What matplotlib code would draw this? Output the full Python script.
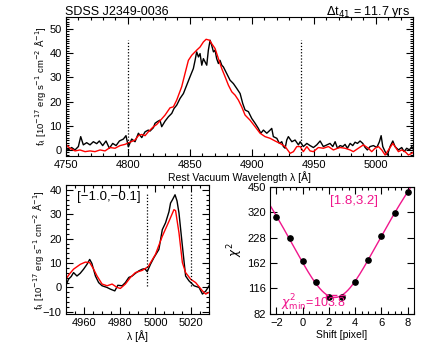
import numpy as np
import matplotlib
matplotlib.use('Agg')
import matplotlib.pyplot as plt
from matplotlib.ticker import MultipleLocator, FixedLocator, NullLocator

plt.rcParams['font.family'] = ['Liberation Sans', 'DejaVu Sans']
plt.rcParams['mathtext.fontset'] = 'dejavusans'

# top panel: H-beta, observed (black) and shifted model (red)
wave_blk = [4750.0, 4752.1, 4754.8, 4757.5, 4760.2, 4762.1, 4764.2, 4766.9, 4769.6, 4772.3,
            4775.0, 4777.1, 4779.8, 4782.5, 4785.2, 4787.9, 4790.6, 4793.3, 4796.5, 4798.6,
            4800.5, 4803.2, 4805.9, 4808.6, 4811.3, 4814.0, 4816.6, 4818.0, 4820.7, 4822.0,
            4823.9, 4826.0, 4827.4, 4830.1, 4832.8, 4835.5, 4837.3, 4839.5, 4842.2, 4844.9,
            4847.5, 4850.2, 4852.9, 4854.3, 4855.6, 4857.0, 4858.3, 4859.7, 4861.0, 4862.3,
            4863.7, 4865.0, 4866.4, 4867.7, 4869.1, 4870.4, 4871.7, 4873.1, 4874.4, 4875.8,
            4877.1, 4879.8, 4882.5, 4885.2, 4887.9, 4890.6, 4892.7, 4894.6, 4897.3, 4900.0,
            4902.7, 4905.3, 4907.3, 4909.4, 4912.1, 4914.8, 4916.1, 4917.4, 4920.2, 4922.3,
            4924.2, 4925.5, 4926.9, 4928.2, 4929.5, 4932.3, 4934.9, 4937.6, 4939.0, 4941.6,
            4944.4, 4947.0, 4949.7, 4952.4, 4955.1, 4957.7, 4960.5, 4963.1, 4965.3, 4967.2,
            4969.1, 4971.2, 4973.4, 4975.2, 4977.1, 4979.3, 4981.4, 4983.3, 4985.2, 4987.3,
            4989.5, 4991.4, 4993.2, 4995.4, 4998.1, 5000.8, 5002.9, 5004.3, 5005.6, 5007.5,
            5009.4, 5011.5, 5013.7, 5015.5, 5018.2, 5020.9, 5022.8, 5024.9, 5027.1, 5029.0,
            5030.0]
flux_blk = [1.4, 0.0, 1.0, 0.0, 1.4, 5.5, 2.1, 3.0, 2.1, 3.4,
            2.6, 3.7, 1.8, 3.7, 0.7, 2.7, 1.8, 3.7, 4.5, 5.9,
            1.3, 4.5, 3.4, 6.9, 5.1, 7.5, 8.2, 7.8, 9.2, 11.0,
            11.7, 12.3, 9.6, 11.9, 13.7, 15.1, 17.1, 18.5, 21.3, 23.3,
            26.7, 30.2, 33.6, 37.0, 40.5, 38.4, 39.8, 35.0, 37.7, 36.4,
            35.0, 41.2, 45.3, 43.2, 40.5, 41.2, 37.7, 35.7, 37.0, 35.0,
            34.3, 31.6, 28.8, 27.4, 25.4, 23.3, 19.2, 16.5, 15.8, 13.0,
            11.0, 8.9, 6.9, 8.2, 6.9, 8.2, 8.9, 5.5, 4.8, 2.7,
            3.4, 1.4, 0.7, 4.1, 5.5, 3.4, 4.1, 2.1, 3.4, 1.4,
            2.7, 1.8, 1.0, 2.1, 3.7, 1.4, 2.1, 2.7, 1.4, 3.4,
            0.7, 1.8, 1.4, 2.3, 0.7, 2.7, 1.8, 3.2, 2.7, 3.7,
            2.7, 1.0, 0.0, 1.4, 1.8, 1.0, 3.4, 5.9, 1.4, -0.7,
            -2.1, 1.4, 3.7, 1.4, 0.0, 1.0, -0.7, 0.7, 0.0, 1.4,
            0.5]

wave_red = [4750.0, 4753.5, 4757.5, 4761.5, 4765.6, 4769.6, 4773.6, 4777.7, 4781.7, 4785.7,
            4789.8, 4793.8, 4797.8, 4801.9, 4805.9, 4808.6, 4811.3, 4814.0, 4816.6, 4818.0,
            4820.7, 4823.3, 4826.0, 4830.1, 4834.1, 4836.8, 4839.5, 4843.5, 4846.2, 4848.9,
            4851.6, 4855.6, 4858.3, 4861.0, 4863.2, 4866.0, 4867.7, 4870.4, 4873.1, 4875.8,
            4878.5, 4881.2, 4883.9, 4886.6, 4889.2, 4891.9, 4894.6, 4898.6, 4902.7, 4906.7,
            4910.7, 4914.8, 4918.8, 4922.8, 4926.9, 4930.9, 4933.6, 4936.3, 4939.0, 4941.6,
            4944.4, 4947.0, 4949.7, 4953.7, 4957.7, 4961.8, 4965.8, 4969.2, 4971.2, 4975.2,
            4979.3, 4981.9, 4985.9, 4990.0, 4994.0, 4996.7, 4999.4, 5002.1, 5004.8, 5007.5,
            5010.2, 5013.7, 5015.5, 5018.2, 5020.9, 5023.6, 5026.3, 5029.0, 5030.0]
flux_red = [2.3, 0.7, -0.4, 0.0, -0.7, -0.4, -0.7, 0.0, -0.4, 1.0,
            0.7, 1.8, 2.3, 3.2, 4.1, 5.9, 6.4, 5.9, 7.5, 8.2,
            9.6, 10.5, 12.0, 14.4, 17.4, 17.8, 20.6, 26.1, 31.6, 37.0,
            39.1, 41.2, 42.5, 44.6, 45.7, 45.3, 43.9, 41.9, 37.7, 33.6,
            30.2, 26.7, 24.0, 22.6, 20.6, 17.8, 14.4, 12.3, 9.6, 6.9,
            5.5, 4.8, 3.7, 2.7, 1.4, -1.4, -0.7, 1.4, 1.4, -0.7,
            1.4, -0.4, -0.7, 1.0, 0.7, 1.4, 0.0, 0.7, 1.0, 0.7,
            0.0, -0.7, 0.7, 2.1, 0.7, -0.7, 0.7, 1.4, 0.0, -2.1,
            0.0, 2.7, 1.4, -0.7, 0.0, -0.7, -2.1, -1.4, -1.0]

# bottom left: [OIII] region
wave2_blk = [4950.0, 4951.5, 4953.0, 4954.3, 4956.2, 4958.0, 4959.9, 4961.8, 4963.3, 4964.5,
             4966.5, 4968.3, 4970.2, 4973.0, 4974.9, 4977.3, 4979.0, 4981.4, 4983.2, 4985.1,
             4987.0, 4988.8, 4990.7, 4992.6, 4994.0, 4995.4, 4997.2, 4999.1, 5001.9, 5003.8,
             5005.6, 5007.5, 5008.4, 5009.5, 5010.9, 5012.0, 5013.1, 5015.0, 5016.8, 5018.7,
             5021.5, 5024.3, 5026.2, 5028.1, 5029.9]
flux2_blk = [0.7, 3.4, 4.5, 6.1, 4.7, 5.8, 7.5, 9.5, 11.5, 9.9,
             4.7, 2.0, 0.7, 0.0, -0.7, -1.4, 0.9, 0.7, 2.0, 4.1,
             4.7, 5.8, 6.8, 7.5, 7.7, 6.5, 9.5, 12.2, 15.6, 23.7,
             26.5, 31.0, 34.6, 36.0, 38.0, 35.5, 30.5, 17.0, 4.7, 2.7,
             0.7, 0.0, -2.7, -1.4, 0.7]
wave2_red = [4950.0, 4952.0, 4954.3, 4958.1, 4960.9, 4963.3, 4965.5, 4967.4, 4970.2, 4973.0,
             4975.8, 4978.6, 4980.4, 4983.2, 4986.0, 4988.8, 4992.6, 4995.9, 5000.0, 5003.8,
             5007.5, 5010.3, 5011.2, 5013.1, 5015.0, 5016.8, 5019.6, 5022.4, 5026.2, 5028.0,
             5029.9]
flux2_red = [3.4, 5.5, 7.5, 9.5, 10.4, 10.2, 7.5, 4.7, 1.4, 0.7,
             1.4, 0.0, -0.4, 1.4, 4.1, 6.1, 7.0, 8.5, 13.6, 21.0,
             27.1, 31.9, 31.5, 22.4, 10.2, 6.1, 3.4, 2.0, -1.4, -2.7,
             -2.0]

# bottom right: chi2 vs shift
shift = [-2, -1, 0, 1, 2, 3, 4, 5, 6, 7, 8]
chi2 = [300, 226, 168, 126, 103, 103, 126, 170, 233, 317, 420]
chi2_ticks = [82, 116, 162, 228, 320, 450]
interval = [1.8, 3.2]
chi2_min = 103.8

pink = '#F0168C'

fig = plt.figure(figsize=(4.36, 3.49), dpi=100)


def style(ax):
    ax.tick_params(which='both', direction='in', top=True, right=True,
                   labelsize=8, pad=3, width=0.8)
    ax.tick_params(which='major', length=5)
    ax.tick_params(which='minor', length=2.5)
    for s in ax.spines.values():
        s.set_linewidth(0.8)


ylab = r'f$_\lambda$ [10$^{-17}$ erg s$^{-1}$ cm$^{-2}$ $\rm\AA^{-1}$]'

# --- top
ax1 = fig.add_axes([0.1507, 0.553, 0.7966, 0.399])
ax1.plot(wave_blk, flux_blk, color='black', lw=1.0)
ax1.plot(wave_red, flux_red, color='red', lw=1.0)
ax1.vlines([4800, 4940], -2.5, 45.3, colors='black', linestyles=(0, (1, 1.5)), lw=0.9)
ax1.set_xlim(4750, 5030)
ax1.set_ylim(-2.5, 55)
ax1.xaxis.set_major_locator(MultipleLocator(50))
ax1.xaxis.set_minor_locator(MultipleLocator(10))
ax1.yaxis.set_major_locator(MultipleLocator(10))
ax1.yaxis.set_minor_locator(MultipleLocator(1))
style(ax1)
ax1.set_xlabel('Rest Vacuum Wavelength λ [Å]', fontsize=7.5, labelpad=1)
fig.text(40 / 436, 1 - 86 / 349, ylab, fontsize=6.8, rotation=90, ha='center', va='center')

fig.text(0.149, 0.957, 'SDSS J2349-0036', fontsize=9, va='baseline', ha='left')
fig.text(0.940, 0.957, r'$\Delta$t$_{41}$ = 11.7 yrs', fontsize=9, va='baseline', ha='right')

# --- bottom left
ax2 = fig.add_axes([0.151, 0.0994, 0.329, 0.3705])
ax2.plot(wave2_blk, flux2_blk, color='black', lw=1.0)
ax2.plot(wave2_red, flux2_red, color='red', lw=1.0)
ax2.vlines([4995, 5020], 0.5, 38.9, colors='black', linestyles=(0, (1, 1.5)), lw=0.9)
ax2.set_xlim(4950, 5030)
ax2.set_ylim(-11, 42)
ax2.xaxis.set_major_locator(MultipleLocator(20))
ax2.xaxis.set_minor_locator(MultipleLocator(5))
ax2.yaxis.set_major_locator(MultipleLocator(10))
ax2.yaxis.set_minor_locator(MultipleLocator(2))
style(ax2)
ax2.set_xlabel('λ [Å]', fontsize=7.5, labelpad=1)
fig.text(38 / 436, 1 - 250 / 349, ylab, fontsize=6.8, rotation=90, ha='center', va='center')
ax2.text(0.08, 0.91, '[\u22121.0,\u22120.1]', transform=ax2.transAxes, fontsize=9.5,
         va='center', ha='left')

# --- bottom right
ax3 = fig.add_axes([0.619, 0.0994, 0.331, 0.3656])
coef = np.polyfit(shift, chi2, 2)
xs = np.linspace(-2.5, 8.5, 200)
ax3.plot(xs, np.polyval(coef, xs), color=pink, lw=1.0)
ax3.plot(shift, chi2, 'o', color='black', ms=3.8)
ax3.plot([interval[0], interval[0], interval[1], interval[1]], [102, 106.5, 106.5, 102],
         color=pink, lw=1.0, ls=(0, (4, 2)))
ax3.set_yscale('log')
ax3.set_xlim(-2.5, 8.5)
ax3.set_ylim(82, 450)
ax3.yaxis.set_major_locator(FixedLocator(chi2_ticks))
ax3.yaxis.set_minor_locator(NullLocator())
ax3.set_yticklabels([str(t) for t in chi2_ticks])
ax3.xaxis.set_major_locator(MultipleLocator(2))
ax3.xaxis.set_minor_locator(MultipleLocator(0.5))
style(ax3)
ax3.set_xlabel('Shift [pixel]', fontsize=7.5, labelpad=1)
fig.text(235 / 436, 1 - 250 / 349, r'$\chi^2$', fontsize=8.5, rotation=90, ha='center', va='center')
ax3.text(0.42, 0.89, '[%.1f,%.1f]' % tuple(interval), transform=ax3.transAxes,
         fontsize=9.5, color=pink, va='center', ha='left')
ax3.text(0.08, 0.09, r'$\chi^2_{\rm min}$=%.1f' % chi2_min, transform=ax3.transAxes,
         fontsize=9, color=pink, va='center', ha='left')

fig.savefig('out.png', dpi=100)
